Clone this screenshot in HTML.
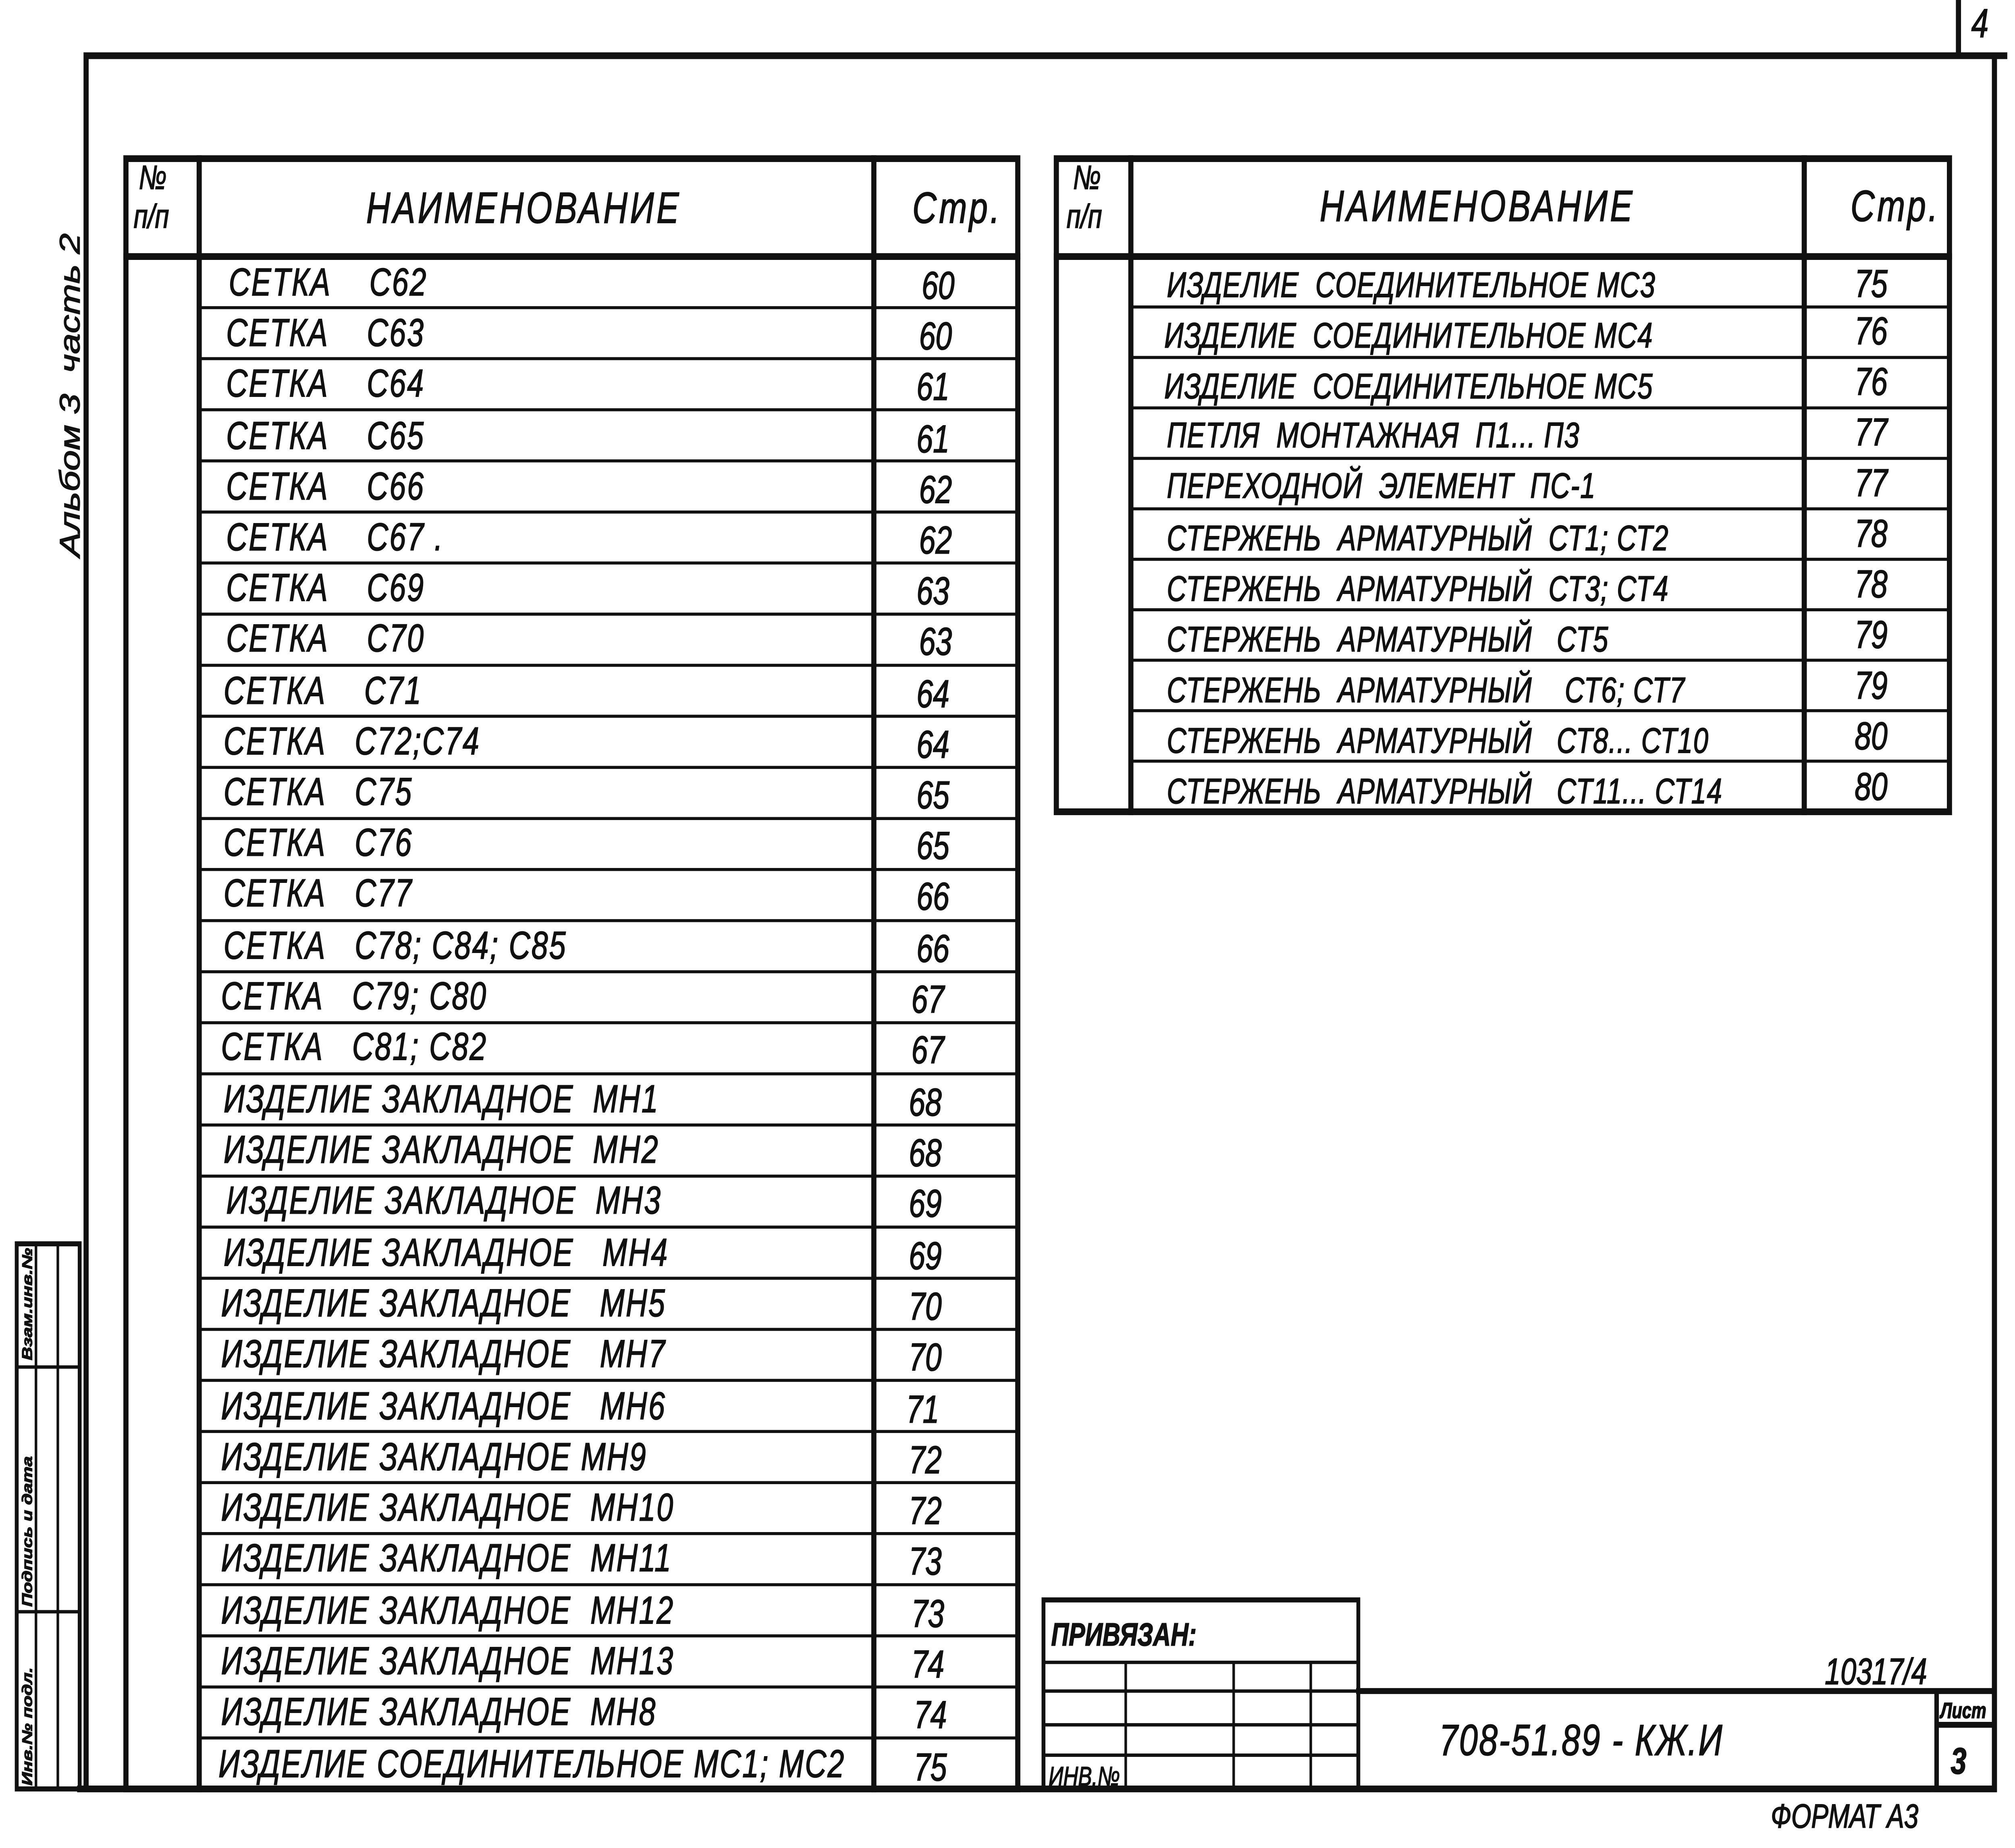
<!DOCTYPE html>
<html><head><meta charset="utf-8"><style>
html,body{margin:0;padding:0;background:#fff;width:100%;height:100%;overflow:hidden}
svg{display:block;position:absolute;left:0;top:0;width:100vw;height:100vh}
text{font-family:"Liberation Sans",sans-serif;font-style:italic;fill:#111;stroke:#111;stroke-width:0.5}
</style></head><body>
<svg viewBox="0 0 1568 1095" preserveAspectRatio="none" xmlns="http://www.w3.org/2000/svg">
<rect width="1568" height="1095" fill="#fff"/>
<g stroke="#111" fill="none" stroke-linecap="square">
<path d="M67 33 H1560 M67 33 V1060 M1552 33 V1060 M62 1060 H1552 M1524 0 V33" stroke-width="4"/>
<rect x="98" y="94" width="694" height="966" stroke-width="4"/>
<path d="M155 94 V1060 M680 94 V1060 M98 152 H792" stroke-width="4"/>
<path stroke-width="1.8" d="M155 182.3H792M155 212.5H792M155 242.8H792M155 273.1H792M155 303.4H792M155 333.6H792M155 363.9H792M155 394.2H792M155 424.4H792M155 454.7H792M155 485H792M155 515.2H792M155 545.5H792M155 575.8H792M155 606H792M155 636.3H792M155 666.6H792M155 696.9H792M155 727.1H792M155 757.4H792M155 787.7H792M155 817.9H792M155 848.2H792M155 878.5H792M155 908.7H792M155 939H792M155 969.3H792M155 999.6H792M155 1029.8H792"/>
<rect x="822" y="94" width="695" height="387" stroke-width="4"/>
<path d="M880 94 V481 M1404 94 V481 M822 152 H1517" stroke-width="4"/>
<path stroke-width="1.8" d="M880 181.9H1517M880 211.8H1517M880 241.7H1517M880 271.6H1517M880 301.5H1517M880 331.4H1517M880 361.3H1517M880 391.2H1517M880 421.1H1517M880 451H1517"/>
<rect x="13" y="737" width="49" height="323" stroke-width="3"/>
<path d="M28 737 V1060 M45 737 V1060 M13 810 H62 M13 955 H62" stroke-width="2"/>
<rect x="812" y="948" width="245" height="112" stroke-width="3"/>
<path d="M812 985 H1057 M812 1002 H1057 M812 1022 H1057 M812 1040 H1057 M876 985 V1060 M960 985 V1060 M1020 985 V1060" stroke-width="2"/>
<path d="M1057 1002 H1552 M1507 1002 V1060 M1507 1022 H1552" stroke-width="3.5"/>
</g>
<g font-size="20">
<text x="108" y="112">№</text><text x="104" y="135">п/п</text>
<text x="835" y="112">№</text><text x="830" y="135">п/п</text>
</g>
<g font-size="26" letter-spacing="2">
<text x="285" y="132">НАИМЕНОВАНИЕ</text>
<text x="1027" y="131">НАИМЕНОВАНИЕ</text>
<text x="710" y="132">Стр.</text>
<text x="1440" y="131">Стр.</text>
</g>
<g font-size="23" letter-spacing="1">
<text x="178" y="175">СЕТКА&#160;&#160;&#160;&#160;С62</text>
<text x="176" y="205">СЕТКА&#160;&#160;&#160;&#160;С63</text>
<text x="176" y="235">СЕТКА&#160;&#160;&#160;&#160;С64</text>
<text x="176" y="266">СЕТКА&#160;&#160;&#160;&#160;С65</text>
<text x="176" y="296">СЕТКА&#160;&#160;&#160;&#160;С66</text>
<text x="176" y="326">СЕТКА&#160;&#160;&#160;&#160;С67 .</text>
<text x="176" y="356">СЕТКА&#160;&#160;&#160;&#160;С69</text>
<text x="176" y="386">СЕТКА&#160;&#160;&#160;&#160;С70</text>
<text x="174" y="417">СЕТКА&#160;&#160;&#160;&#160;С71</text>
<text x="174" y="447">СЕТКА&#160;&#160;&#160;С72;С74</text>
<text x="174" y="477">СЕТКА&#160;&#160;&#160;С75</text>
<text x="174" y="507">СЕТКА&#160;&#160;&#160;С76</text>
<text x="174" y="537">СЕТКА&#160;&#160;&#160;С77</text>
<text x="174" y="568">СЕТКА&#160;&#160;&#160;С78; С84; С85</text>
<text x="172" y="598">СЕТКА&#160;&#160;&#160;С79; С80</text>
<text x="172" y="628">СЕТКА&#160;&#160;&#160;С81; С82</text>
<text x="174" y="659">ИЗДЕЛИЕ ЗАКЛАДНОЕ&#160;&#160;МН1</text>
<text x="174" y="689">ИЗДЕЛИЕ ЗАКЛАДНОЕ&#160;&#160;МН2</text>
<text x="176" y="719">ИЗДЕЛИЕ ЗАКЛАДНОЕ&#160;&#160;МН3</text>
<text x="174" y="750">ИЗДЕЛИЕ ЗАКЛАДНОЕ&#160;&#160;&#160;МН4</text>
<text x="172" y="780">ИЗДЕЛИЕ ЗАКЛАДНОЕ&#160;&#160;&#160;МН5</text>
<text x="172" y="810">ИЗДЕЛИЕ ЗАКЛАДНОЕ&#160;&#160;&#160;МН7</text>
<text x="172" y="841">ИЗДЕЛИЕ ЗАКЛАДНОЕ&#160;&#160;&#160;МН6</text>
<text x="172" y="871">ИЗДЕЛИЕ ЗАКЛАДНОЕ&#160;МН9</text>
<text x="172" y="901">ИЗДЕЛИЕ ЗАКЛАДНОЕ&#160;&#160;МН10</text>
<text x="172" y="931">ИЗДЕЛИЕ ЗАКЛАДНОЕ&#160;&#160;МН11</text>
<text x="172" y="962">ИЗДЕЛИЕ ЗАКЛАДНОЕ&#160;&#160;МН12</text>
<text x="172" y="992">ИЗДЕЛИЕ ЗАКЛАДНОЕ&#160;&#160;МН13</text>
<text x="172" y="1022">ИЗДЕЛИЕ ЗАКЛАДНОЕ&#160;&#160;МН8</text>
<text x="170" y="1053">ИЗДЕЛИЕ СОЕДИНИТЕЛЬНОЕ МС1; МС2</text>
</g>
<g font-size="23" text-anchor="middle">
<text x="730" y="177">60</text><text x="728" y="207">60</text><text x="726" y="237">61</text><text x="726" y="268">61</text><text x="728" y="298">62</text><text x="728" y="328">62</text><text x="726" y="358">63</text><text x="728" y="388">63</text><text x="726" y="419">64</text><text x="726" y="449">64</text><text x="726" y="479">65</text><text x="726" y="509">65</text><text x="726" y="539">66</text><text x="726" y="570">66</text><text x="722" y="600">67</text><text x="722" y="630">67</text><text x="720" y="661">68</text><text x="720" y="691">68</text><text x="720" y="721">69</text><text x="720" y="752">69</text><text x="720" y="782">70</text><text x="720" y="812">70</text><text x="718" y="843">71</text><text x="720" y="873">72</text><text x="720" y="903">72</text><text x="720" y="933">73</text><text x="722" y="964">73</text><text x="722" y="994">74</text><text x="724" y="1024">74</text><text x="724" y="1055">75</text>
</g>
<g font-size="21" letter-spacing="0.5">
<text x="908" y="176">ИЗДЕЛИЕ&#160;&#160;СОЕДИНИТЕЛЬНОЕ МС3</text>
<text x="906" y="206">ИЗДЕЛИЕ&#160;&#160;СОЕДИНИТЕЛЬНОЕ МС4</text>
<text x="906" y="236">ИЗДЕЛИЕ&#160;&#160;СОЕДИНИТЕЛЬНОЕ МС5</text>
<text x="908" y="265">ПЕТЛЯ&#160;&#160;МОНТАЖНАЯ&#160;&#160;П1... П3</text>
<text x="908" y="295">ПЕРЕХОДНОЙ&#160;&#160;ЭЛЕМЕНТ&#160;&#160;ПС-1</text>
<text x="908" y="326">СТЕРЖЕНЬ&#160;&#160;АРМАТУРНЫЙ&#160;&#160;СТ1; СТ2</text>
<text x="908" y="356">СТЕРЖЕНЬ&#160;&#160;АРМАТУРНЫЙ&#160;&#160;СТ3; СТ4</text>
<text x="908" y="386">СТЕРЖЕНЬ&#160;&#160;АРМАТУРНЫЙ&#160;&#160;&#160;СТ5</text>
<text x="908" y="416">СТЕРЖЕНЬ&#160;&#160;АРМАТУРНЫЙ&#160;&#160;&#160;&#160;СТ6; СТ7</text>
<text x="908" y="446">СТЕРЖЕНЬ&#160;&#160;АРМАТУРНЫЙ&#160;&#160;&#160;СТ8... СТ10</text>
<text x="908" y="476">СТЕРЖЕНЬ&#160;&#160;АРМАТУРНЫЙ&#160;&#160;&#160;СТ11... СТ14</text>
</g>
<g font-size="23" text-anchor="middle">
<text x="1456" y="176">75</text><text x="1456" y="204">76</text><text x="1456" y="234">76</text><text x="1456" y="264">77</text><text x="1456" y="294">77</text><text x="1456" y="324">78</text><text x="1456" y="354">78</text><text x="1456" y="384">79</text><text x="1456" y="414">79</text><text x="1456" y="444">80</text><text x="1456" y="474">80</text>
</g>
<text font-size="22" transform="translate(62,330) rotate(-90)">Альбом 3&#160;&#160;часть 2</text>
<g font-size="11" font-weight="bold">
<text transform="translate(25,1058) rotate(-90)">Инв.№ подл.</text>
<text transform="translate(25,952) rotate(-90)">Подпись и дата</text>
<text transform="translate(25,806) rotate(-90)">Взам.инв.№</text>
</g>
<text x="818" y="975" font-size="19" font-weight="bold">ПРИВЯЗАН:</text>
<text x="816" y="1058" font-size="16">ИНВ.№</text>
<text x="1420" y="998" font-size="22">10317/4</text>
<text x="1120" y="1040" font-size="26" letter-spacing="1">708-51.89 - КЖ.И</text>
<text x="1510" y="1018" font-size="13" font-weight="bold">Лист</text>
<text x="1518" y="1051" font-size="22" font-weight="bold">3</text>
<text x="1378" y="1083" font-size="20">ФОРМАТ А3</text>
<text x="1534" y="22" font-size="24">4</text>
</svg>
</body></html>
